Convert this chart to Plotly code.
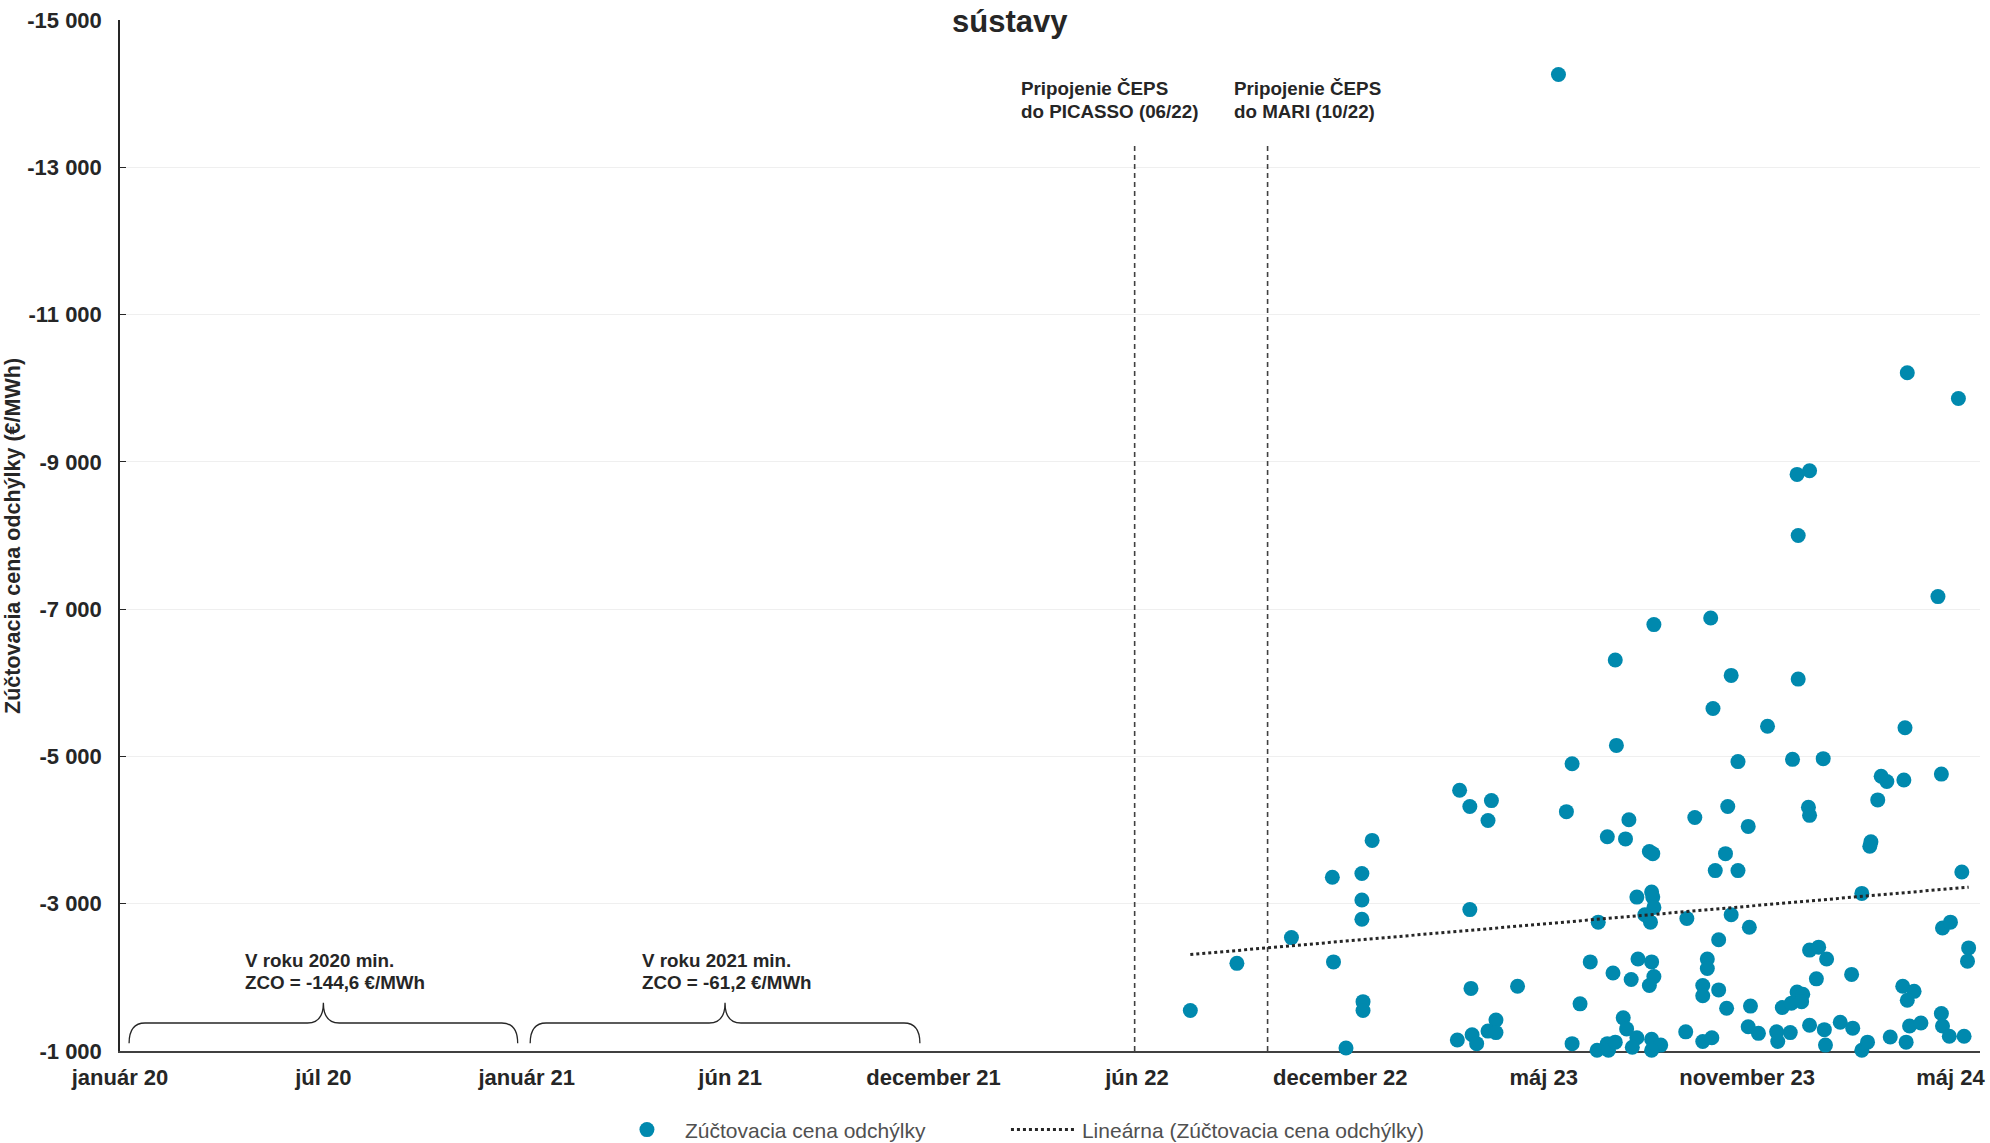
import plotly.graph_objects as go

# ---- data (dates as Excel serial numbers, values in EUR/MWh) ----
zco_dates = [
    44773, 44814, 44862, 44898, 44899, 44910, 44924, 44924, 44924, 44925, 44925, 44933,
    45097, 45404, 45449, 45307, 45318, 45308, 45431, 45231, 45181, 45147, 45249, 45308,
    45233, 45281, 45402, 45148, 45109, 45255, 45303, 45330, 45381, 45386, 45401, 45434,
    45010, 45019, 45038, 45035, 45104, 45159, 45140, 45156, 45217, 45246, 45264, 45317,
    45318, 45378, 45372, 45371, 45177, 45180, 45244, 45235, 45255, 45452, 45364, 45166,
    45179, 45180, 45181, 45019, 45173, 45178, 45132, 45210, 45249, 45265, 45435, 45442,
    45238, 45318, 45326, 45333, 45458, 45457, 45167, 45179, 45125, 45145, 45161, 45181,
    45177, 45228, 45228, 45224, 45224, 45238, 45324, 45355, 45400, 45410, 45404, 45020,
    45061, 45116, 45245, 45266, 45294, 45302, 45307, 45312, 45311, 45434, 45042, 45035,
    45042, 45008, 45021, 45025, 45154, 45157, 45109, 45131, 45140, 45141, 45147, 45166,
    45162, 45179, 45187, 45179, 45209, 45224, 45232, 45264, 45273, 45289, 45290, 45301,
    45318, 45331, 45332, 45345, 45356, 45364, 45369, 45389, 45403, 45406, 45416, 45435,
    45441, 45454,
]
zco_values = [
    -1550, -2190, -2540, -3360, -2210, -1040, -3410, -3050, -2790, -1670, -1550, -3860,
    -14260, -10210, -9860, -8830, -8880, -8000, -7170, -6880, -6790, -6310, -6100, -6050,
    -5650, -5410, -5390, -5150, -4900, -4930, -4960, -4970, -4730, -4660, -4680, -4760,
    -4540, -4320, -4400, -4130, -4250, -4140, -3910, -3880, -4170, -4320, -4050, -4310,
    -4200, -4410, -3840, -3780, -3710, -3680, -3680, -3450, -3450, -3430, -3140, -3090,
    -3160, -3090, -2950, -2920, -2850, -2750, -2750, -2800, -2850, -2680, -2670, -2750,
    -2510, -2370, -2410, -2250, -2400, -2220, -2250, -2210, -2210, -2060, -1970, -2010,
    -1890, -2250, -2120, -1890, -1750, -1830, -1980, -2040, -1880, -1810, -1690, -1850,
    -1880, -1640, -1580, -1610, -1590, -1650, -1800, -1770, -1670, -1510, -1420, -1270,
    -1250, -1150, -1220, -1100, -1450, -1300, -1100, -1010, -1100, -1010, -1120, -1180,
    -1050, -1160, -1080, -1010, -1260, -1130, -1180, -1330, -1240, -1260, -1130, -1250,
    -1350, -1290, -1080, -1390, -1310, -1010, -1120, -1190, -1120, -1340, -1380, -1340,
    -1200, -1200,
]

# linear trend
trend_dates = [44773, 45458]
trend_values = [-2310, -3225]

# x-axis ticks
tick_dates = [43831, 44010, 44189, 44368, 44547, 44726, 44905, 45084, 45263, 45442]
tick_labels = ["január 20", "júl 20", "január 21", "jún 21", "december 21",
               "jún 22", "december 22", "máj 23", "november 23", "máj 24"]
y_ticks = [-15000, -13000, -11000, -9000, -7000, -5000, -3000, -1000]
y_tick_labels = ["-15 000", "-13 000", "-11 000", "-9 000", "-7 000", "-5 000", "-3 000", "-1 000"]

# events (vertical dashed lines)
event_dates = [44724, 44841]
event_line1 = ["Pripojenie ČEPS", "Pripojenie ČEPS"]
event_line2 = ["do PICASSO (06/22)", "do MARI (10/22)"]
event_label_x = [44622, 44810]
event_top = -13330

# yearly minimum notes with braces
year_spans = [(43839, 44181), (44192, 44535)]
year_line1 = ["V roku 2020 min.", "V roku 2021 min."]
year_line2 = ["ZCO = -144,6 €/MWh", "ZCO = -61,2 €/MWh"]
year_note_x = [43939, 44289]

FONT = "Liberation Sans"
TXT = "#262626"
BLUE = "#0089AE"

fig = go.Figure()
fig.add_trace(go.Scatter(
    x=zco_dates, y=zco_values, mode="markers", name="Zúčtovacia cena odchýlky",
    marker=dict(color=BLUE, size=15, line=dict(width=0)), cliponaxis=False,
    legend="legend",
))
fig.add_trace(go.Scatter(
    x=trend_dates, y=trend_values, mode="lines", name="Lineárna (Zúčtovacia cena odchýlky)",
    line=dict(color="#262626", width=3, dash="dot"), legend="legend2",
))

shapes = []
for d in event_dates:
    shapes.append(dict(type="line", xref="x", yref="y", x0=d, x1=d, y0=-1000, y1=event_top,
                       line=dict(color="#404040", width=1.6, dash="5px,4px")))

# braces
yb, yh, yt = -1105, -1380, -1656
r = 14
for (x0, x1) in year_spans:
    xc = (x0 + x1) / 2
    path = (f"M {x0},{yb} Q {x0},{yh} {x0 + r},{yh} L {xc - r},{yh} "
            f"Q {xc},{yh} {xc},{yt} Q {xc},{yh} {xc + r},{yh} "
            f"L {x1 - r},{yh} Q {x1},{yh} {x1},{yb}")
    shapes.append(dict(type="path", xref="x", yref="y", path=path,
                       line=dict(color="#262626", width=1.3)))

annotations = []
def note(x, y, text, size=18.8):
    annotations.append(dict(x=x, y=y, xref="x", yref="y", text=text, showarrow=False,
                            xanchor="left", yanchor="middle", align="left",
                            font=dict(family=FONT, size=size, color=TXT, weight="bold")))

for lx, l1, l2 in zip(event_label_x, event_line1, event_line2):
    note(lx, -14066, l1)
    note(lx, -13755, l2)
for nx, l1, l2 in zip(year_note_x, year_line1, year_line2):
    note(nx, -2225, l1)
    note(nx, -1933, l2)

annotations.append(dict(x=0.4783, y=1 + 18 / 1031, xref="paper", yref="paper", text="sústavy",
                        showarrow=False, xanchor="center", yanchor="top",
                        font=dict(family=FONT, size=31, color=TXT, weight="bold")))
annotations.append(dict(x=-0.0578, y=0.5, xref="paper", yref="paper",
                        text="Zúčtovacia cena odchýlky (€/MWh)", textangle=-90, showarrow=False,
                        xanchor="center", yanchor="middle",
                        font=dict(family=FONT, size=21.5, color=TXT, weight="bold")))

legend_font = dict(family=FONT, size=21, color="#505050")
fig.update_layout(
    width=1990, height=1143, autosize=False,
    margin=dict(l=120, r=10, t=20, b=92, autoexpand=False),
    paper_bgcolor="white", plot_bgcolor="white",
    font=dict(family=FONT, color=TXT),
    shapes=shapes, annotations=annotations,
    showlegend=True,
    legend=dict(orientation="h", xref="container", yref="container", x=0.306, y=0.0114,
                xanchor="left", yanchor="middle",
                font=legend_font, itemwidth=66, bgcolor="rgba(0,0,0,0)"),
    legend2=dict(orientation="h", xref="container", yref="container", x=0.5055, y=0.0114,
                 xanchor="left", yanchor="middle",
                 font=legend_font, itemwidth=66, bgcolor="rgba(0,0,0,0)"),
    xaxis=dict(range=[43831, 45468], tickvals=tick_dates, ticktext=tick_labels,
               showgrid=False, zeroline=False, showline=True, linecolor="#404040", linewidth=2,
               ticks="", tickfont=dict(family=FONT, size=22, color=TXT, weight="bold"),
               ticklabelstandoff=6, layer="below traces"),
    yaxis=dict(range=[-1000, -15000], tickvals=y_ticks, ticktext=y_tick_labels,
               showgrid=True, gridcolor="#EFEFEF", gridwidth=1.3, zeroline=False,
               showline=True, linecolor="#262626", linewidth=1.5,
               ticks="inside", ticklen=6, tickcolor="#262626",
               tickfont=dict(family=FONT, size=22, color=TXT, weight="bold"),
               ticklabelstandoff=12, layer="below traces"),
)

fig.write_html("out.html", config={"displayModeBar": False},
               post_script="document.body.style.margin='0';document.body.style.overflow='hidden';")
